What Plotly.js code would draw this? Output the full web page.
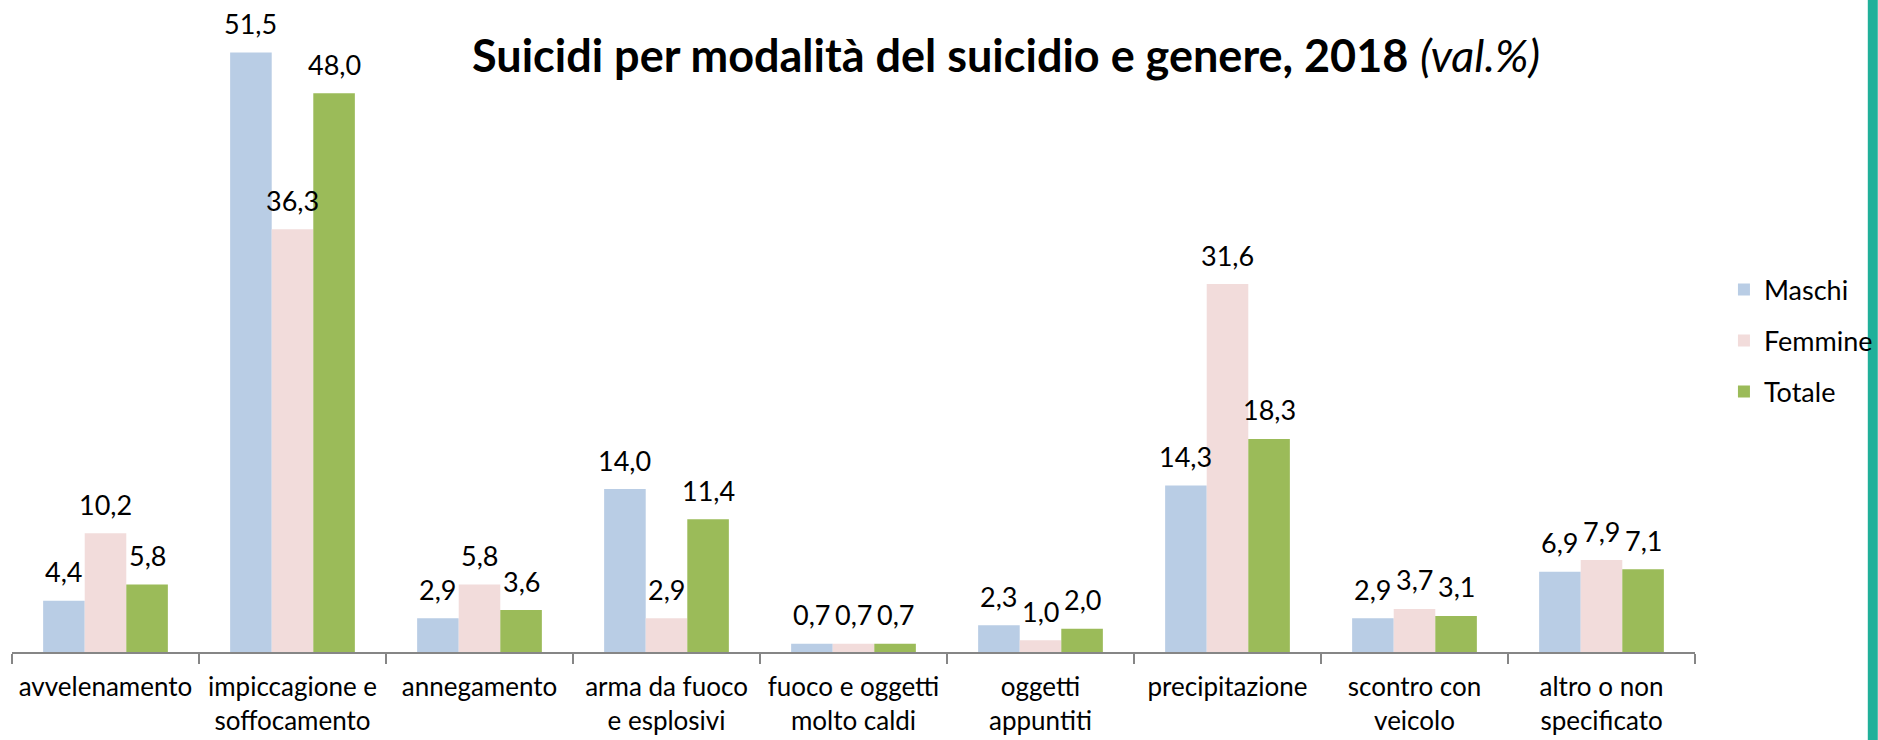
<!DOCTYPE html>
<html>
<head>
<meta charset="utf-8">
<script src="https://cdn.plot.ly/plotly-3.0.1.min.js"></script>
<style>
  html, body { margin: 0; padding: 0; background: #ffffff; }
  #chart { width: 1878px; height: 740px; }
</style>
</head>
<body>
<div id="chart"></div>
<script>
const categories = [
  "avvelenamento",
  "impiccagione e<br>soffocamento",
  "annegamento",
  "arma da fuoco<br>e esplosivi",
  "fuoco e oggetti<br>molto caldi",
  "oggetti<br>appuntiti",
  "precipitazione",
  "scontro con<br>veicolo",
  "altro o non<br>specificato"
];
const seriesNames = ["Maschi", "Femmine", "Totale"];
const maschi  = [4.4, 51.5, 2.9, 14.0, 0.7, 2.3, 14.3, 2.9, 6.9];
const femmine = [10.2, 36.3, 5.8, 2.9, 0.7, 1.0, 31.6, 3.7, 7.9];
const totale  = [5.8, 48.0, 3.6, 11.4, 0.7, 2.0, 18.3, 3.1, 7.1];

const seriesValues = [maschi, femmine, totale];
const seriesColors = ["#B9CDE5", "#F2DCDB", "#9BBB59"];
const FONT = "Lato, 'Open Sans', sans-serif";

const traces = seriesValues.map((vals, k) => ({
  type: "bar",
  name: seriesNames[k],
  x: categories,
  y: vals,
  marker: { color: seriesColors[k], line: { width: 0 } },
  legendgroup: "g" + k,
  hoverinfo: "skip"
}));

// data labels, placed through the axes above each bar
const fmt = v => v.toFixed(1).replace(".", ",");
const barPx = 41.6;
const annotations = [];
seriesValues.forEach((vals, k) => {
  vals.forEach((v, i) => {
    annotations.push({
      x: categories[i], y: v, xref: "x", yref: "y",
      text: fmt(v), showarrow: false,
      xshift: (k - 1) * barPx, yshift: 29,
      xanchor: "center", yanchor: "middle",
      font: { family: FONT, size: 27, color: "#000000" }
    });
  });
});

const layout = {
  width: 1878, height: 740,
  margin: { l: 12, r: 181, t: 0, b: 88 },
  paper_bgcolor: "#ffffff", plot_bgcolor: "#ffffff",
  barmode: "group",
  bargap: 0.333, bargroupgap: 0,
  font: { family: FONT, color: "#000000" },
  title: {
    text: "<b>Suicidi per modalità del suicidio e genere, 2018</b> <i>(val.%)</i>",
    font: { family: FONT, size: 45, color: "#000000" },
    x: 0.5357, xref: "container", xanchor: "center",
    y: 0.924, yref: "container", yanchor: "middle"
  },
  xaxis: {
    type: "category",
    showline: true, linecolor: "#868686", linewidth: 2,
    ticks: "outside", tickson: "boundaries", ticklen: 10,
    tickcolor: "#868686", tickwidth: 2,
    tickangle: 0,
    ticklabelstandoff: 11,
    showgrid: false, zeroline: false,
    tickfont: { family: FONT, size: 26, color: "#000000" },
    fixedrange: true
  },
  yaxis: {
    range: [0, 56],
    visible: false, showgrid: false, zeroline: false,
    fixedrange: true
  },
  showlegend: true,
  legend: {
    x: 1.0172, xanchor: "left",
    y: 0.593, yanchor: "top",
    traceorder: "grouped",
    tracegroupgap: 13,
    font: { family: FONT, size: 27, color: "#000000" },
    bgcolor: "rgba(0,0,0,0)"
  },
  annotations: annotations,
  shapes: [{
    type: "rect", xref: "paper", yref: "paper",
    x0: (1870 - 12) / 1685, x1: (1880 - 12) / 1685,
    y0: -0.2, y1: 1.2,
    fillcolor: "#20B09A", line: { width: 0 }, layer: "above"
  }]
};

Plotly.newPlot("chart", traces, layout, { displayModeBar: false, staticPlot: true });
</script>
</body>
</html>
